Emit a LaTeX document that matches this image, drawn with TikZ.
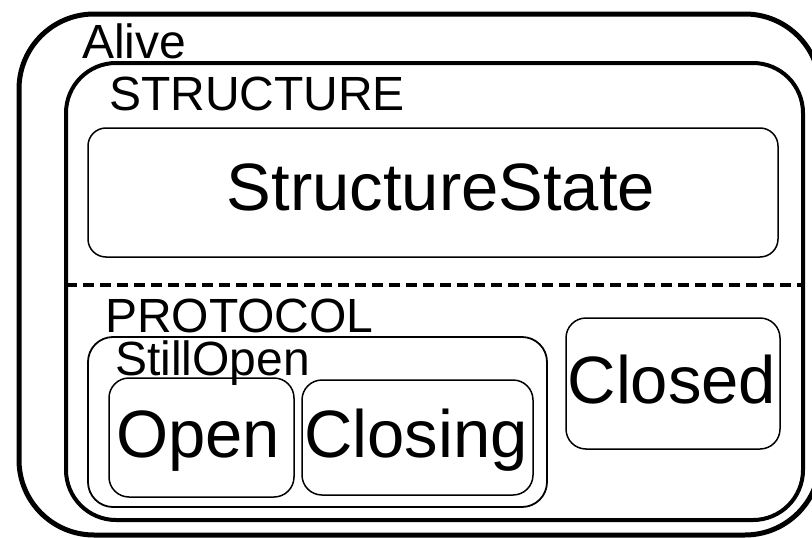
\documentclass[tikz,border=0pt]{standalone}
\usepackage{fontspec}
\setmainfont{Liberation Sans}
\begin{document}
\begin{tikzpicture}[x=1pt,y=-1pt,
  frame/.style={draw=black, inner sep=0pt, outer sep=0pt, fill=none},
  statebox/.style={frame, line width=1.5pt, rounded corners=20pt},
  lbl/.style={inner sep=0pt, outer sep=0pt, anchor=base west, font=\fontsize{48}{50}\selectfont},
  big/.style={inner sep=0pt, outer sep=0pt, anchor=base, font=\fontsize{67}{70}\selectfont}]
\useasboundingbox (0,0) rectangle (812,538);
\fill[white] (0,0) rectangle (812,538);
% outer and inner compound states
\node[frame, line width=5pt, rounded corners=75pt, minimum width=801pt, minimum height=521pt] (alive) at (419.5,274.5) {};
\node[frame, line width=4pt, rounded corners=50pt, minimum width=737pt, minimum height=457pt] (region) at (434.5,291.5) {};
% region separator
\coordinate (sep) at (0,285);
\draw[line width=4.5pt, dash pattern=on 11pt off 6pt] (region.west |- sep) -- (region.east |- sep);
% inner states
\node[statebox, rounded corners=18pt, minimum width=690pt, minimum height=129pt] (structstate) at (433,192.5) {};
\node[statebox, line width=1.8pt, rounded corners=25pt, minimum width=459pt, minimum height=170pt] (stillopen) at (317.5,422) {};
\node[statebox, minimum width=185pt, minimum height=119pt] (open) at (201.5,437.5) {};
\node[statebox, minimum width=231pt, minimum height=115pt] (closing) at (417.5,437.5) {};
\node[statebox, minimum width=214pt, minimum height=131pt] (closed) at (673,383.5) {};
% labels
\node[lbl] (alivelbl) at (82,58) {Alive};
\node[lbl] (structlbl) at (109,110) {STRUCTURE};
\node[lbl] (protolbl) at (105,332) {PROTOCOL};
\node[lbl] (stilllbl) at (115,375) {StillOpen};
\node[big] (structtxt) at (441,210) {StructureState};
\node[big] (opentxt) at (198,457) {Open};
\node[big] (closingtxt) at (416,457) {Closing};
\node[big] (closedtxt) at (672,403) {Closed};
\end{tikzpicture}
\end{document}
